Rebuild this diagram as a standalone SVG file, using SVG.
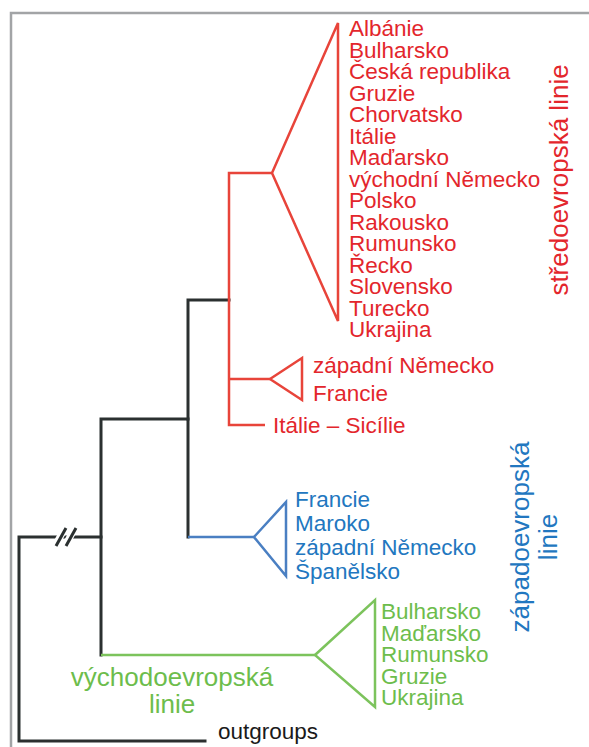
<svg xmlns="http://www.w3.org/2000/svg" width="589" height="747" viewBox="0 0 589 747">
<style>
text{font-family:"Liberation Sans",Arial,sans-serif;}
.lab{font-size:22.5px;}
.big{font-size:26px;}
.red{fill:#e3262c;}
.blue{fill:#2277c0;}
.green{fill:#6dbd4c;}
.blk{fill:#1a1a1a;}
.lk{fill:none;stroke:#2b3030;stroke-width:3;stroke-linejoin:miter;stroke-linecap:square;}
.lr{fill:none;stroke:#e8443a;stroke-width:2.5;stroke-linejoin:miter;}
.lb{fill:none;stroke:#4a7fc2;stroke-width:2.5;stroke-linejoin:miter;}
.lg{fill:none;stroke:#7cc35c;stroke-width:2.5;stroke-linejoin:miter;}
</style>
<rect width="589" height="747" fill="#ffffff"/>
<path d="M11,747 V13 H589" fill="none" stroke="#a2a4a6" stroke-width="2.5"/>
<g id="connectors">
<path class="lk" d="M205,741 H19 V537 H101"/>
<path class="lk" d="M101,655 V419 H188 V537"/>
<path class="lk" d="M188,419 V300 H229"/>
<path d="M54,548 L66,526 M64,548 L76,526" stroke="#ffffff" stroke-width="7" fill="none"/>
<path d="M56,546 L66,528 M66,546 L76,528" stroke="#2b3030" stroke-width="3" fill="none"/>
<path class="lr" d="M229,300 V173 H272 M229,300 V425 H265 M229,379 H270"/>
<path class="lb" d="M188,537 H254"/>
<path class="lg" d="M101,655 H315"/>
</g>
<g id="clade-central">
<path class="lr" d="M272,173 L338,23 V321 Z"/>
<text class="lab red" x="349" y="36">Albánie</text>
<text class="lab red" x="349" y="57.5">Bulharsko</text>
<text class="lab red" x="349" y="79">Česká republika</text>
<text class="lab red" x="349" y="100.5">Gruzie</text>
<text class="lab red" x="349" y="122">Chorvatsko</text>
<text class="lab red" x="349" y="143.5">Itálie</text>
<text class="lab red" x="349" y="165">Maďarsko</text>
<text class="lab red" x="349" y="186.5">východní Německo</text>
<text class="lab red" x="349" y="208">Polsko</text>
<text class="lab red" x="349" y="229.5">Rakousko</text>
<text class="lab red" x="349" y="251">Rumunsko</text>
<text class="lab red" x="349" y="272.5">Řecko</text>
<text class="lab red" x="349" y="294">Slovensko</text>
<text class="lab red" x="349" y="315.5">Turecko</text>
<text class="lab red" x="349" y="337">Ukrajina</text>
</g>
<g id="clade-central-west">
<path class="lr" d="M270,379 L302,358 V400 Z"/>
<text class="lab red" x="313" y="373">západní Německo</text>
<text class="lab red" x="313" y="401">Francie</text>
</g>
<g id="leaf-sicily">
<text class="lab red" x="273" y="433">Itálie – Sicílie</text>
</g>
<g id="label-central">
<text class="big red" transform="translate(568,180) rotate(-90)" text-anchor="middle">středoevropská linie</text>
</g>
<g id="clade-west">
<path class="lb" d="M254,537 L286,502 V576 Z"/>
<text class="lab blue" x="295" y="507">Francie</text>
<text class="lab blue" x="295" y="531">Maroko</text>
<text class="lab blue" x="295" y="555">západní Německo</text>
<text class="lab blue" x="295" y="579">Španělsko</text>
</g>
<g id="label-west">
<text class="big blue" transform="translate(529,537) rotate(-90)" text-anchor="middle">západoevropská</text>
<text class="big blue" transform="translate(557,537) rotate(-90)" text-anchor="middle">linie</text>
</g>
<g id="clade-east">
<path class="lg" d="M315,655 L375,600 V707 Z"/>
<text class="lab green" x="381" y="619">Bulharsko</text>
<text class="lab green" x="381" y="641">Maďarsko</text>
<text class="lab green" x="381" y="662">Rumunsko</text>
<text class="lab green" x="381" y="684">Gruzie</text>
<text class="lab green" x="381" y="705">Ukrajina</text>
</g>
<g id="label-east">
<text class="big green" x="172" y="686" text-anchor="middle">východoevropská</text>
<text class="big green" x="172" y="713" text-anchor="middle">linie</text>
</g>
<g id="outgroups">
<text class="lab blk" x="218" y="739">outgroups</text>
</g>
</svg>
